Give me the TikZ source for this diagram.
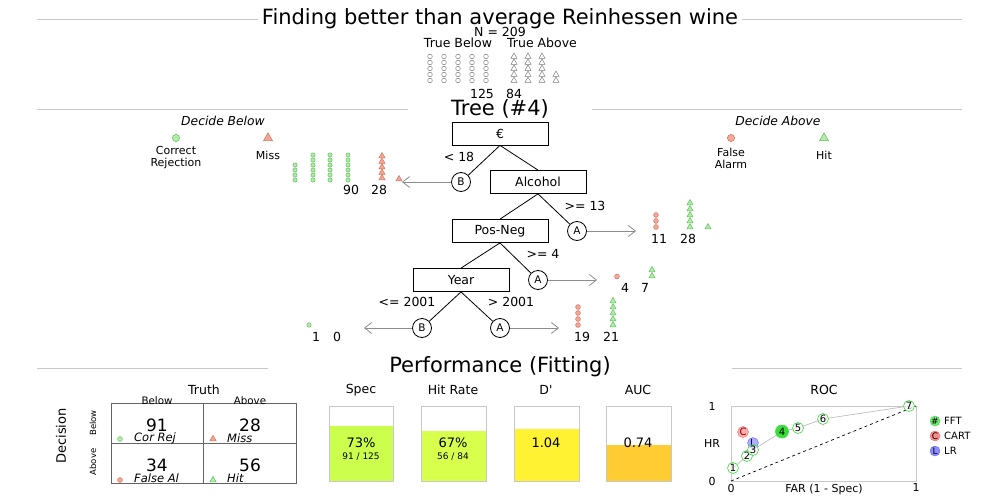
\documentclass[tikz,border=0pt]{standalone}
\usepackage{fontspec}
\setmainfont{DejaVu Sans}
\usetikzlibrary{arrows.meta}
\definecolor{gfill}{RGB}{178,236,166}
\definecolor{gedge}{RGB}{96,192,96}
\definecolor{rfill}{RGB}{244,168,152}
\definecolor{redge}{RGB}{214,112,92}
\definecolor{secline}{RGB}{200,200,200}
\definecolor{arrowgray}{RGB}{140,140,140}
\definecolor{specfill}{RGB}{204,255,77}
\definecolor{hitfill}{RGB}{217,255,77}
\definecolor{dfill}{RGB}{255,242,51}
\definecolor{aucfill}{RGB}{255,204,51}
\definecolor{rocgreen}{RGB}{60,220,60}
\definecolor{mxline}{RGB}{100,100,100}
\newcommand\fs[1]{\fontsize{#1}{#1}\selectfont}
\tikzset{
  lbl/.style={inner sep=0, font=\fs{12.5}},
  big/.style={inner sep=0, font=\fs{21}},
  small/.style={inner sep=0, font=\fs{9}},
  cue/.style={draw, line width=0.8pt, minimum width=96pt, minimum height=23pt, inner sep=0, font=\fs{12.5}},
  exitnode/.style={circle, draw, line width=0.8pt, minimum size=19pt, inner sep=0, font=\fs{10.5}},
  branch/.style={line width=0.8pt},
  exitarrow/.style={draw=arrowgray, line width=0.8pt, -{Straight Barb[length=7pt,width=11pt]}},
  sec/.style={draw=secline, line width=0.8pt},
  gc/.style={draw=gedge, fill=gfill, line width=0.5pt},
  rc/.style={draw=redge, fill=rfill, line width=0.5pt},
  wc/.style={draw=gray, fill=white, line width=0.5pt},
  barbox/.style={draw=secline, line width=0.8pt},
  mx/.style={draw=mxline, line width=0.9pt},
  rocpt/.style={circle, draw=rocgreen, fill=white, fill opacity=0.6, text opacity=1, line width=0.6pt, minimum size=11pt, inner sep=0, font=\fs{10}},
}
% circle icon: style, x, y, radius
\newcommand\icoc[4]{\path[#1] (#2,#3) circle[radius=#4pt];}
% triangle icon: style, x, y, half-width
\newcommand\icot[4]{\path[#1] (#2,#3) ++(-#4,0.6*#4) -- ++(2*#4,0) -- ++(-#4,-1.75*#4) -- cycle;}
\begin{document}
\begin{tikzpicture}[x=1pt,y=-1pt]
\useasboundingbox (0,0) rectangle (1000,500);
\fill[white] (0,0) rectangle (1000,500);

% ---------- header ----------
\node[big] (title) at (500,19) {Finding better than average Reinhessen wine};
\draw[sec] (37,19) -- (258,19);
\draw[sec] (742,19) -- (962,19);
\node[lbl] (n) at (500,32) {N = 209};
\node[lbl] (tb) at (458,43) {True Below};
\node[lbl] (ta) at (542,43) {True Above};
\foreach \x in {430,444,458,472,486}
  \foreach \y in {56.5,62.5,68.5,74.5,80.5}
    {\icoc{wc}{\x}{\y}{2.3}}
\foreach \x in {514,528,542}
  \foreach \y in {56.5,62.5,68.5,74.5,80.5}
    {\icot{wc}{\x}{\y}{3}}
\foreach \y in {74.5,80.5} {\icot{wc}{556}{\y}{3}}
\node[lbl] (n125) at (482,94) {125};
\node[lbl] (n84) at (514,94) {84};

\node[big] (treetitle) at (500,109) {Tree (\#4)};
\draw[sec] (37,109) -- (408,109);
\draw[sec] (592,109) -- (962,109);

% ---------- legends ----------
\node[lbl,font=\fs{12.3}\itshape] (db) at (223,121) {Decide Below};
\icoc{gc}{176}{138}{3.6}
\node[lbl,font=\fs{11},align=center] (crl) at (176,158) {Correct\\[1pt]Rejection};
\icot{rc}{268}{138}{4.5}
\node[lbl,font=\fs{11}] (missl) at (268,155) {Miss};
\node[lbl,font=\fs{12.3}\itshape] (da) at (778,121) {Decide Above};
\icoc{rc}{731}{138}{3.6}
\node[lbl,font=\fs{11},align=center] (fal) at (731,158) {False\\[1pt]Alarm};
\icot{gc}{824}{138}{4.5}
\node[lbl,font=\fs{11}] (hitl) at (824,155) {Hit};

% ---------- tree ----------
\node[cue] (c1) at (500,133.5) {€};
\node[exitnode] (b1) at (461,182) {B};
\node[cue] (c2) at (538,182) {Alcohol};
\node[exitnode] (a2) at (577,231) {A};
\node[cue] (c3) at (500,231) {Pos-Neg};
\node[exitnode] (a3) at (538,280) {A};
\node[cue] (c4) at (461,280) {Year};
\node[exitnode] (b4) at (422,328) {B};
\node[exitnode] (a4) at (500,328) {A};

\draw[branch] (c1.south) -- (b1);
\draw[branch] (c1.south) -- (c2.north);
\draw[branch] (c2.south) -- (c3.north);
\draw[branch] (c2.south) -- (a2);
\draw[branch] (c3.south) -- (c4.north);
\draw[branch] (c3.south) -- (a3);
\draw[branch] (c4.south) -- (b4);
\draw[branch] (c4.south) -- (a4);

\node[lbl] (l1) at (459,157) {< 18};
\node[lbl] (l2) at (585,206) {>= 13};
\node[lbl] (l3) at (543,254) {>= 4};
\node[lbl] (l4) at (407,302) {<= 2001};
\node[lbl] (l5) at (511,302) {> 2001};

\coordinate (e1) at (402,182);
\coordinate (e2) at (636,231);
\coordinate (e3) at (597,280);
\coordinate (e4) at (364,328);
\coordinate (e5) at (559,328);
\draw[exitarrow] (b1) -- (e1);
\draw[exitarrow] (a2) -- (e2);
\draw[exitarrow] (a3) -- (e3);
\draw[exitarrow] (b4) -- (e4);
\draw[exitarrow] (a4) -- (e5);

% ---------- leaves ----------
% leaf 1 (B, decide below)
\foreach \y in {165,170,175,180} {\icoc{gc}{295}{\y}{2.1}}
\foreach \x in {313,330,348}
  \foreach \y in {155,160,165,170,175,180}
    {\icoc{gc}{\x}{\y}{2.1}}
\foreach \y in {156,161.5,167,172.5,178} {\icot{rc}{382}{\y}{3}}
\icot{rc}{399}{179}{3}
\node[lbl] (n90) at (351,190) {90};
\node[lbl] (n28a) at (379,190) {28};
% leaf 2
\foreach \y in {215,221,227} {\icoc{rc}{656}{\y}{2.4}}
\foreach \y in {203,209,215,221,227} {\icot{gc}{690}{\y}{3}}
\icot{gc}{708}{227}{3}
\node[lbl] (n11) at (659,239) {11};
\node[lbl] (n28b) at (688,239) {28};
% leaf 3
\icoc{rc}{617}{276.5}{2.4}
\foreach \y in {270,276} {\icot{gc}{652}{\y}{3}}
\node[lbl] (n4) at (625,288) {4};
\node[lbl] (n7) at (645,288) {7};
% leaf 4 (B)
\icoc{gc}{309}{325}{2.2}
\node[lbl] (n1) at (316,337) {1};
\node[lbl] (n0) at (337,337) {0};
% leaf 5 (A)
\foreach \y in {307,313,319,325} {\icoc{rc}{578}{\y}{2.4}}
\foreach \y in {301,307,313,319,325} {\icot{gc}{613}{\y}{3}}
\node[lbl] (n19) at (582,337) {19};
\node[lbl] (n21) at (611,337) {21};

% ---------- performance ----------
\node[big] (perf) at (500,367) {Performance (Fitting)};
\draw[sec] (37,368) -- (268,368);
\draw[sec] (732,368) -- (962,368);

% confusion matrix
\node[lbl,font=\fs{12.5}] (truth) at (204,390) {Truth};
\node[lbl,font=\fs{13},rotate=90] (dec) at (61,436) {Decision};
\draw[mx] (111,403) rectangle (296,483);
\draw[mx] (203.5,403) -- (203.5,483);
\draw[mx] (111,443) -- (296,443);
\node[small,font=\fs{10.3}] (tbel) at (157,401) {Below};
\node[small,font=\fs{10.3}] (tabo) at (250,401) {Above};
\node[small,font=\fs{8.5},rotate=90] (dbel) at (93,423) {Below};
\node[small,font=\fs{8.5},rotate=90] (dabo) at (93,462) {Above};
\node[lbl,font=\fs{17}] (m91) at (157,425) {91};
\node[lbl,font=\fs{17}] (m28) at (250,425) {28};
\node[lbl,font=\fs{17}] (m34) at (157,465) {34};
\node[lbl,font=\fs{17}] (m56) at (250,465) {56};
\icoc{gc}{120}{439}{2.4}
\node[lbl,font=\fs{11.5}\itshape,anchor=west] (cr) at (134,438) {Cor Rej};
\icot{rc}{213}{439}{3.2}
\node[lbl,font=\fs{11.5}\itshape,anchor=west] (ms) at (227,438) {Miss};
\icoc{rc}{120}{480}{2.4}
\node[lbl,font=\fs{11.5}\itshape,anchor=west] (fa) at (134,478) {False Al};
\icot{gc}{213}{480}{3.2}
\node[lbl,font=\fs{11.5}\itshape,anchor=west] (hi) at (227,478) {Hit};

% bars
\node[lbl] (tspec) at (361,390) {Spec};
\fill[specfill] (329,426) rectangle (393,481);
\draw[barbox] (329,406) rectangle (393,481);
\node[lbl,font=\fs{13}] (v1) at (361,443) {73\%};
\node[small] (s1) at (361,457) {91 / 125};

\node[lbl] (thit) at (453,390) {Hit Rate};
\fill[hitfill] (421,431) rectangle (486,481);
\draw[barbox] (421,406) rectangle (486,481);
\node[lbl,font=\fs{13}] (v2) at (453,443) {67\%};
\node[small] (s2) at (453,457) {56 / 84};

\node[lbl] (td) at (546,390) {D\textquotesingle};
\fill[dfill] (514,429) rectangle (579,481);
\draw[barbox] (514,406) rectangle (579,481);
\node[lbl,font=\fs{13}] (v3) at (546,443) {1.04};

\node[lbl] (tauc) at (638,390) {AUC};
\fill[aucfill] (606,445) rectangle (671,481);
\draw[barbox] (606,406) rectangle (671,481);
\node[lbl,font=\fs{13}] (v4) at (638,443) {0.74};

% ROC
\node[lbl] (troc) at (824,390) {ROC};
\draw[barbox] (731,406) rectangle (916,481);
\node[lbl,font=\fs{11}] (y1) at (712,406) {1};
\node[lbl,font=\fs{11}] (y0) at (712,481) {0};
\node[lbl,font=\fs{11}] (hr) at (712,443) {HR};
\node[lbl,font=\fs{11}] (x0) at (731,488) {0};
\node[lbl,font=\fs{11}] (x1) at (916,487) {1};
\node[lbl,font=\fs{11}] (far) at (824,489) {FAR (1 - Spec)};
\draw[dashed, line width=0.7pt] (731,481) -- (916,406);
\draw[gray!50, line width=0.7pt] (733,468) -- (747,456) -- (753,450) -- (782,431.5) -- (798,428) -- (823,419) -- (909,406);
\node[circle, draw=red!60, fill=red!45, fill opacity=0.7, text opacity=1, minimum size=11pt, inner sep=0, font=\fs{10}, text=red!50!black] (cart) at (743,432) {C};
\node[circle, draw=blue!60, fill=blue!45, fill opacity=0.7, text opacity=1, minimum size=11pt, inner sep=0, font=\fs{10}, text=blue!40!black] (lr) at (753,443) {L};
\node[rocpt] (p1) at (733,468) {1};
\node[rocpt] (p2) at (747,456) {2};
\node[rocpt] (p3) at (753,450) {3};
\node[rocpt, fill=rocgreen, fill opacity=1, minimum size=13pt] (p4) at (782,431.5) {4};
\node[rocpt] (p5) at (798,428) {5};
\node[rocpt] (p6) at (823,419) {6};
\node[rocpt] (p7) at (909,406) {7};
% ROC legend
\node[circle, draw=rocgreen, fill=rocgreen!70, minimum size=10pt, inner sep=0, font=\fs{9}] (lg1) at (935,421) {\#};
\node[lbl,font=\fs{10},anchor=west] (lt1) at (944,421) {FFT};
\node[circle, draw=red!60, fill=red!45, minimum size=10pt, inner sep=0, font=\fs{9}] (lg2) at (935,436) {C};
\node[lbl,font=\fs{10},anchor=west] (lt2) at (944,436) {CART};
\node[circle, draw=blue!60, fill=blue!45, minimum size=10pt, inner sep=0, font=\fs{9}] (lg3) at (935,451) {L};
\node[lbl,font=\fs{10},anchor=west] (lt3) at (944,451) {LR};
\end{tikzpicture}
\end{document}
